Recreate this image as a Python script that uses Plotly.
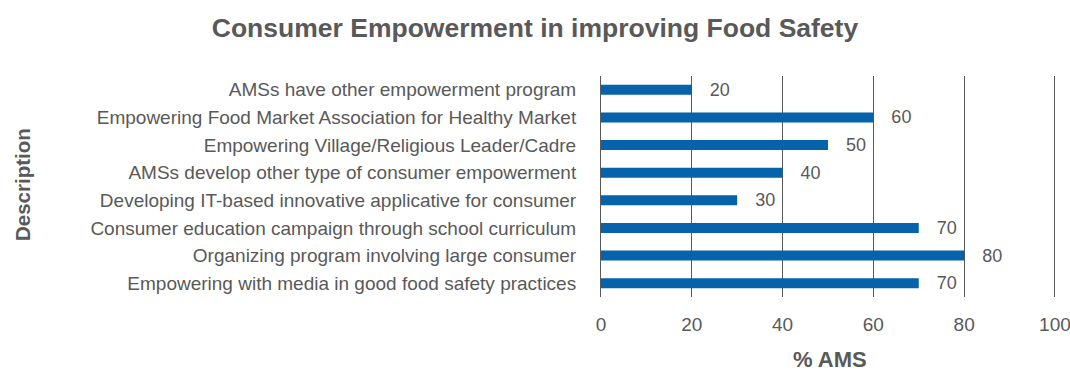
import plotly.graph_objects as go

categories = [
    "AMSs have other empowerment program",
    "Empowering Food Market Association for Healthy Market",
    "Empowering Village/Religious Leader/Cadre",
    "AMSs develop other type of consumer empowerment",
    "Developing IT-based innovative applicative for consumer",
    "Consumer education campaign through school curriculum",
    "Organizing program involving large consumer",
    "Empowering with media in good food safety practices",
]
values = [20, 60, 50, 40, 30, 70, 80, 70]
x_ticks = [0, 20, 40, 60, 80, 100]

gray = "#595959"
font = "Liberation Sans, Arial, Helvetica, sans-serif"

fig = go.Figure(go.Bar(
    y=categories,
    x=values,
    orientation="h",
    marker=dict(color="#0562AB", line=dict(width=0)),
    text=values,
    texttemplate="   %{x}",
    textposition="outside",
    constraintext="none",
    textfont=dict(color=gray, size=18, family=font),
    cliponaxis=False,
))

fig.update_layout(
    width=1070, height=372,
    margin=dict(l=601, r=13, t=76, b=75, autoexpand=False),
    paper_bgcolor="white", plot_bgcolor="white",
    bargap=0.64,
    showlegend=False,
    title=dict(text="<b>Consumer Empowerment in improving Food Safety</b>",
               x=0.5, xanchor="center", y=0.925, yanchor="middle",
               font=dict(size=26.5, color=gray, family=font)),
    font=dict(family=font, color=gray),
)
fig.update_xaxes(
    range=[0, 100.45], tickvals=x_ticks, showgrid=True, gridcolor=gray, gridwidth=1,
    zeroline=False, showline=False, ticks="", automargin=False,
    ticklabeloverflow="allow",
    tickfont=dict(size=19, color=gray), ticklabelstandoff=14,
)
fig.update_yaxes(
    autorange="reversed", categoryorder="array", categoryarray=categories,
    showline=True, linecolor=gray, linewidth=1, showgrid=False, ticks="",
    automargin=False,
    tickfont=dict(size=19, color=gray), ticklabelstandoff=20,
)
plot_w = 1070 - 601 - 13
plot_h = 372 - 76 - 75
fig.add_annotation(text="<b>% AMS</b>", x=(830 - 601) / plot_w, xref="x domain",
                   y=(297 - 359) / plot_h, yref="y domain", yanchor="middle",
                   showarrow=False, font=dict(size=22, color=gray, family=font))
fig.add_annotation(text="<b>Description</b>", x=(22 - 601) / plot_w, xref="x domain",
                   y=(297 - 185) / plot_h, yref="y domain",
                   showarrow=False, textangle=-90, xanchor="center", yanchor="middle",
                   font=dict(size=20.5, color=gray, family=font))

fig.write_html("out.html")
